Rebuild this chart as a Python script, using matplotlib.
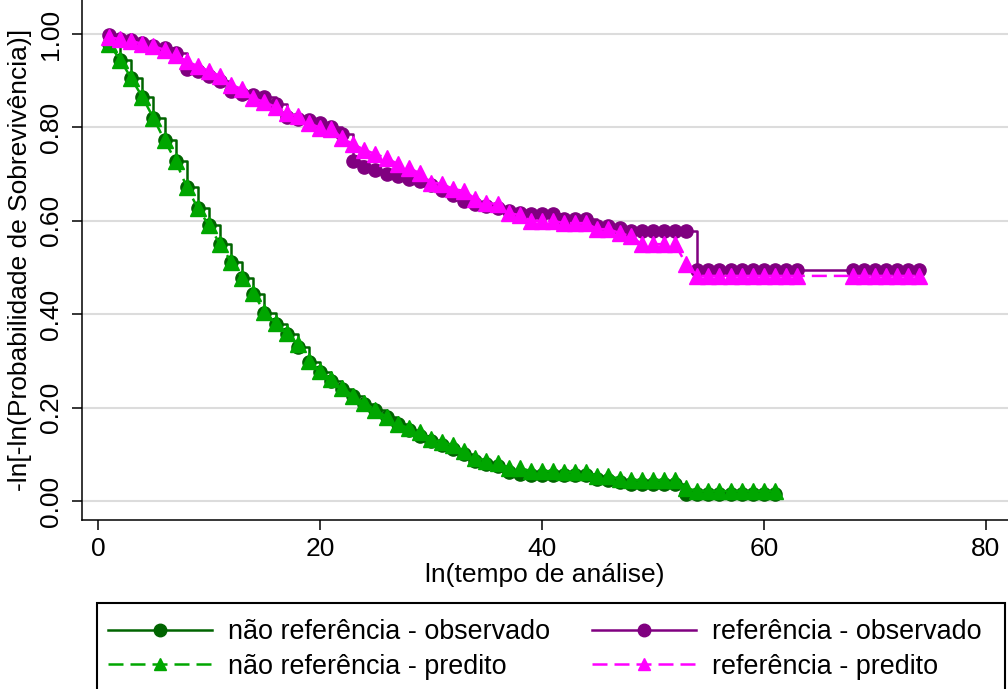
"""Log-log survival plot: observed versus predicted, by reference group."""

import matplotlib

matplotlib.use("Agg")
import matplotlib.pyplot as plt
from matplotlib.patches import Rectangle

plt.rcParams["font.family"] = ["Liberation Sans", "DejaVu Sans"]

# analysis time (non-reference group)
TIME_NONREF = list(range(1, 62))
OBS_NONREF = [
    0.978, 0.945, 0.905, 0.865, 0.820, 0.772, 0.728, 0.672, 0.627, 0.590,
    0.550, 0.512, 0.478, 0.443, 0.403, 0.380, 0.358, 0.330, 0.298, 0.276,
    0.258, 0.240, 0.224, 0.208, 0.195, 0.180, 0.164, 0.152, 0.140, 0.128,
    0.120, 0.112, 0.100, 0.086, 0.080, 0.074, 0.062, 0.058, 0.055, 0.055,
    0.055, 0.055, 0.055, 0.055, 0.048, 0.046, 0.040, 0.036, 0.036, 0.036,
    0.036, 0.036, 0.015, 0.015, 0.015, 0.015, 0.015, 0.015, 0.015, 0.015,
    0.015,
]
PRED_NONREF = [
    0.978, 0.945, 0.905, 0.865, 0.820, 0.772, 0.728, 0.672, 0.627, 0.590,
    0.550, 0.512, 0.478, 0.445, 0.405, 0.381, 0.360, 0.336, 0.300, 0.278,
    0.261, 0.242, 0.225, 0.210, 0.195, 0.180, 0.165, 0.156, 0.148, 0.133,
    0.126, 0.120, 0.107, 0.093, 0.086, 0.081, 0.071, 0.071, 0.064, 0.064,
    0.064, 0.062, 0.062, 0.062, 0.054, 0.054, 0.047, 0.045, 0.045, 0.045,
    0.045, 0.045, 0.028, 0.021, 0.021, 0.021, 0.021, 0.021, 0.021, 0.021,
    0.021,
]

# analysis time (reference group)
TIME_REF = list(range(1, 64)) + list(range(68, 75))
OBS_REF = [
    0.998, 0.990, 0.987, 0.980, 0.975, 0.970, 0.960, 0.925, 0.920, 0.910,
    0.900, 0.878, 0.872, 0.870, 0.866, 0.850, 0.822, 0.818, 0.815, 0.810,
    0.800, 0.785, 0.728, 0.716, 0.708, 0.700, 0.695, 0.690, 0.685, 0.677,
    0.666, 0.655, 0.643, 0.636, 0.632, 0.628, 0.622, 0.617, 0.615, 0.615,
    0.615, 0.604, 0.604, 0.604, 0.589, 0.589, 0.585, 0.578, 0.578, 0.578,
    0.578, 0.578, 0.578, 0.495, 0.495, 0.495, 0.495, 0.495, 0.495, 0.495,
    0.495, 0.495, 0.495, 0.495, 0.495, 0.495, 0.495, 0.495, 0.495, 0.495,
]
PRED_REF = [
    0.993, 0.989, 0.985, 0.979, 0.974, 0.966, 0.955, 0.942, 0.931, 0.921,
    0.910, 0.891, 0.882, 0.863, 0.854, 0.844, 0.831, 0.824, 0.810, 0.799,
    0.797, 0.777, 0.764, 0.752, 0.743, 0.734, 0.722, 0.713, 0.702, 0.682,
    0.679, 0.668, 0.664, 0.647, 0.638, 0.636, 0.617, 0.612, 0.600, 0.600,
    0.600, 0.595, 0.595, 0.595, 0.582, 0.582, 0.574, 0.567, 0.550, 0.550,
    0.550, 0.550, 0.507, 0.482, 0.482, 0.482, 0.482, 0.482, 0.482, 0.482,
    0.482, 0.482, 0.482, 0.482, 0.482, 0.482, 0.482, 0.482, 0.482, 0.482,
]

X_TICKS = [0, 20, 40, 60, 80]
Y_TICKS = [0.0, 0.2, 0.4, 0.6, 0.8, 1.0]
Y_TICK_LABELS = ["0.00", "0.20", "0.40", "0.60", "0.80", "1.00"]

LABELS = [
    "não referência - observado",
    "não referência - predito",
    "referência - observado",
    "referência - predito",
]

DKGREEN = "#006400"
GREEN = "#00a600"
PURPLE = "#800080"
MAGENTA = "#ff00ff"

LINE_WIDTH = 1.8
DASHES = (6.0, 2.8)

# legend box, in pixels from the top left corner of the figure
FIG_W, FIG_H = 1008, 689
LEGEND_LEFT, LEGEND_RIGHT, LEGEND_TOP = 97, 1005, 603


def main():
    figure = plt.figure(figsize=(FIG_W / 100, FIG_H / 100), dpi=100)
    axes = _make_axes(figure)
    handles = _graph_data(axes)
    _make_legend(figure, handles)
    figure.savefig("out.png", dpi=100)


def _make_axes(figure):
    axes = figure.add_axes(
        [82 / FIG_W, 1 - 520 / FIG_H, 1 - 82 / FIG_W, 520 / FIG_H]
    )
    axes.set_xlim(-1.44, 82.0)
    axes.set_ylim(-0.0407, 1.0728)
    axes.spines["top"].set_visible(False)
    axes.spines["right"].set_visible(False)
    for side in ("left", "bottom"):
        axes.spines[side].set_linewidth(1.1)
    axes.set_xticks(X_TICKS)
    axes.set_yticks(Y_TICKS)
    axes.set_yticklabels(Y_TICK_LABELS, rotation=90, va="center")
    axes.tick_params(axis="x", labelsize=19, length=7, width=1.1, pad=5)
    axes.tick_params(axis="y", labelsize=19, length=7, width=1.1, pad=7)
    axes.grid(axis="y", color="#dcdcdc", linewidth=1.5)
    axes.set_axisbelow(True)
    axes.set_xlabel("ln(tempo de análise)", fontsize=19, labelpad=2)
    axes.set_ylabel(
        "-ln[-ln(Probabilidade de Sobrevivência)]", fontsize=19, labelpad=5
    )
    return axes


def _graph_data(axes):
    obs_style = dict(
        marker="o", markersize=9.5, linewidth=LINE_WIDTH, where="post"
    )
    pred_style = dict(
        marker="^",
        markersize=11,
        linewidth=LINE_WIDTH,
        linestyle="--",
        dashes=DASHES,
    )
    h1 = axes.step(TIME_NONREF, OBS_NONREF, color=DKGREEN, **obs_style)[0]
    h2 = axes.plot(TIME_NONREF, PRED_NONREF, color=GREEN, **pred_style)[0]
    h3 = axes.step(TIME_REF, OBS_REF, color=PURPLE, **obs_style)[0]
    h4 = axes.plot(TIME_REF, PRED_REF, color=MAGENTA, **pred_style)[0]
    return [h1, h2, h3, h4]


def _make_legend(figure, handles):
    # the box runs off the bottom edge of the figure, so draw it by hand
    box = Rectangle(
        (LEGEND_LEFT / FIG_W, -0.05),
        (LEGEND_RIGHT - LEGEND_LEFT) / FIG_W,
        1 - LEGEND_TOP / FIG_H + 0.05,
        transform=figure.transFigure,
        facecolor="white",
        edgecolor="black",
        linewidth=1.5,
    )
    figure.patches.append(box)
    legend = figure.legend(
        handles,
        LABELS,
        loc="upper left",
        bbox_to_anchor=(LEGEND_LEFT / FIG_W, 1 - (LEGEND_TOP + 5) / FIG_H),
        borderaxespad=0.0,
        ncol=2,
        fontsize=19.4,
        handlelength=3.85,
        handletextpad=0.6,
        columnspacing=1.55,
        labelspacing=0.31,
        borderpad=0.42,
        frameon=False,
    )
    for line in legend.get_lines():
        line.set_markersize(9)


if __name__ == "__main__":
    main()
